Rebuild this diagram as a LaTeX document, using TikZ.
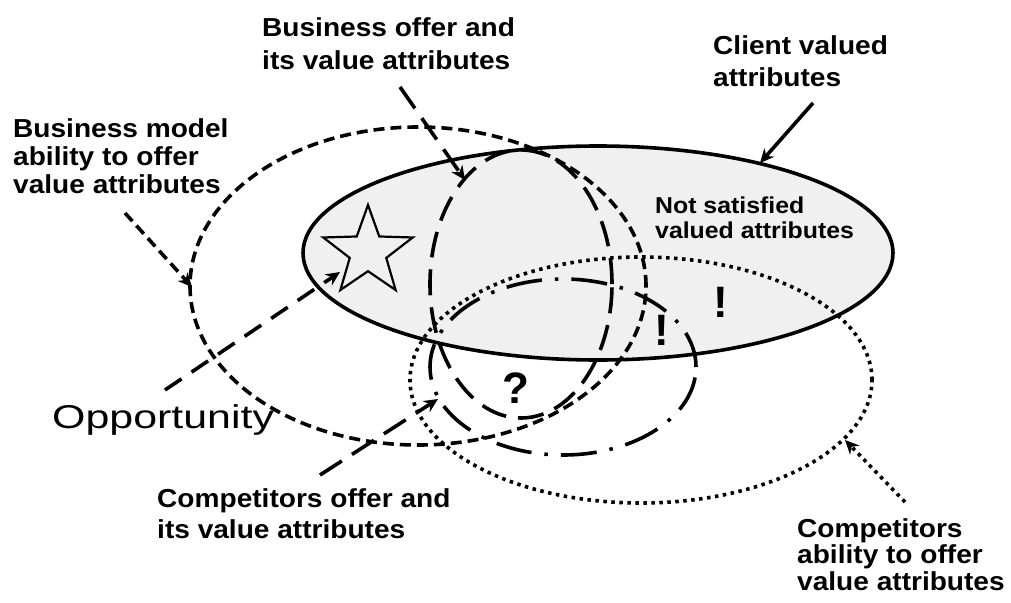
\documentclass[tikz,border=0pt]{standalone}
\usepackage{fontspec}
\setmainfont{Liberation Sans}
\usetikzlibrary{shapes.geometric,arrows.meta}
\definecolor{ellgray}{RGB}{240,240,240}
\tikzset{
  lbl/.style={inner sep=0pt, anchor=base west, font=\bfseries},
  ell/.style={ellipse, inner sep=0pt, line width=3.6pt},
  shortdash/.style={dash pattern=on 11pt off 6pt},
  longdash/.style={dash pattern=on 26pt off 12pt},
  dashdotline/.style={dash pattern=on 36pt off 13pt on 3.5pt off 13pt},
  dotline/.style={dash pattern=on 3.5pt off 4.5pt},
  arr/.style={line width=3.6pt, -{Stealth[length=14pt,width=13pt]}},
  punct/.style={font=\fontsize{44}{44}\selectfont\bfseries, inner sep=0pt},
}
\newcommand{\mylbl}[3]{{\fontsize{#1}{#2}\selectfont\scalebox{1.08}[1]{\begin{tabular}[t]{@{}l@{}}#3\end{tabular}}}}
\begin{document}
\begin{tikzpicture}[x=1pt,y=-1pt]
\useasboundingbox (0,0) rectangle (1011,602);
% client valued attributes
\node[ell, draw, fill=ellgray, minimum width=590pt, minimum height=214pt] (client) at (598,253) {};
\node[star, star points=5, star point ratio=2.45, minimum size=94pt, inner sep=0pt, draw, line width=2.2pt, fill=ellgray] (star) at (368,252) {};
% other sets
\node[ell, draw, shortdash, minimum width=456pt, minimum height=318pt] (bmodel) at (418,286) {};
\node[ell, draw, longdash, minimum width=182pt, minimum height=268pt] (boffer) at (521,284) {};
\node[ell, draw, dashdotline, minimum width=266pt, minimum height=176pt] (coffer) at (563,367) {};
\node[ell, draw, dotline, minimum width=462pt, minimum height=246pt] (cability) at (641,380) {};
% punctuation
\node[punct] (q) at (516,388) {?};
\node[punct] (ex1) at (662,330) {!};
\node[punct] (ex2) at (721,302) {!};
% labels
\node[lbl] (tboffer) at (262,37) {\mylbl{26}{33}{Business offer and\\its value attributes}};
\node[lbl] (tclient) at (713,55) {\mylbl{26}{32}{Client valued\\attributes}};
\node[lbl] (tbmodel) at (13,137) {\mylbl{26}{28}{Business model\\ability to offer\\value attributes}};
\node[lbl] (tnots) at (655,213) {\mylbl{23}{25}{Not satisfied\\valued attributes}};
\node[lbl] (tcoffer) at (157,507) {\mylbl{26}{31}{Competitors offer and\\its value attributes}};
\node[lbl] (tcab) at (797,537) {\mylbl{26}{26.5}{Competitors\\ability to offer\\value attributes}};
\node[inner sep=0pt, anchor=base west] (topp) at (52,428) {\fontsize{33}{33}\selectfont\scalebox{1.3}[1]{Opportunity}};
% arrow end points
\coordinate (boS) at (400,87);  \coordinate (boE) at (465,180);
\coordinate (clS) at (813,103); \coordinate (clE) at (760,163);
\coordinate (bmS) at (125,213); \coordinate (bmE) at (192,287);
\coordinate (opS) at (165,390); \coordinate (opE) at (340,272);
\coordinate (coS) at (320,475); \coordinate (coE) at (438,399);
\coordinate (caS) at (905,502); \coordinate (caE) at (845,440);
% arrows
\draw[arr, longdash] (boS) -- (boE);
\draw[arr] (clS) -- (clE);
\draw[arr, shortdash] (bmS) -- (bmE);
\draw[arr, dash pattern=on 20pt off 12pt] (opS) -- (opE);
\draw[arr, longdash] (coS) -- (coE);
\draw[arr, dotline] (caS) -- (caE);
\end{tikzpicture}
\end{document}
